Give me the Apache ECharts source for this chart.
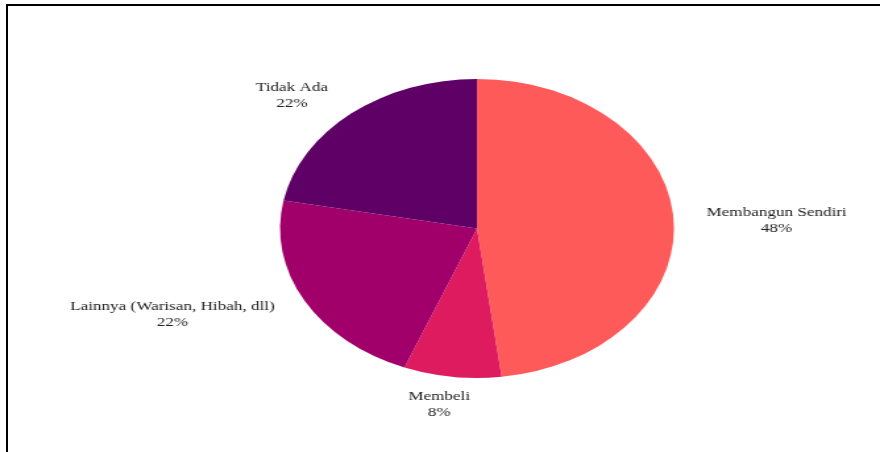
<!DOCTYPE html>
<html>
<head>
<meta charset="utf-8">
<script src="https://cdn.jsdelivr.net/npm/echarts@6/dist/echarts.min.js"></script>
<style>
  html, body { margin: 0; padding: 0; background: #fff; }
  #wrap { position: relative; width: 880px; height: 452px; overflow: hidden; }
  #frame {
    position: absolute; left: 6px; top: 4px; right: 0; bottom: 0;
    border-top: 2px solid #000; border-left: 2px solid #000;
  }
  /* the pie is drawn round, then widened into an oval */
  #chart {
    position: absolute; left: 0; top: 0; width: 668px; height: 452px;
    transform: scaleX(1.3174); transform-origin: 0 0;
  }
</style>
</head>
<body>
<div id="wrap">
  <div id="frame"></div>
  <div id="chart"></div>
</div>
<script>
const categories = ['Membangun Sendiri', 'Membeli', 'Lainnya (Warisan, Hibah, dll)', 'Tidak Ada'];
const shares = [48, 8, 22, 22];
const palette = ['#FF5A5A', '#DF1B5F', '#A1006B', '#5F0066'];

const chart = echarts.init(document.getElementById('chart'), null, { renderer: 'canvas' });

// small nudges of each outside label (in chart pixels)
const labelNudge = [[0, 3], [21, 8], [0, 4], [0, -2]];

chart.setOption({
  animation: false,
  series: [{
    type: 'pie',
    center: ['54.2%', '50.55%'],
    radius: [0, 149.5],
    startAngle: 90,
    clockwise: true,
    avoidLabelOverlap: false,
    data: categories.map((name, i) => ({
      name: name,
      value: shares[i],
      itemStyle: { color: palette[i] }
    })),
    itemStyle: { borderWidth: 0 },
    emphasis: { disabled: true },
    label: {
      show: true,
      position: 'outside',
      formatter: '{b}\n{c}%',
      fontFamily: '"Liberation Serif", "DejaVu Serif", serif',
      fontSize: 13,
      lineHeight: 16,
      color: '#222'
    },
    labelLine: { show: false, length: 20, length2: 0 },
    labelLayout: function (p) {
      const r = p.labelRect;
      const n = labelNudge[p.dataIndex] || [0, 0];
      return {
        x: r.x + r.width / 2 + n[0],
        y: r.y + r.height / 2 + n[1],
        align: 'center',
        verticalAlign: 'middle'
      };
    }
  }]
});
</script>
</body>
</html>
